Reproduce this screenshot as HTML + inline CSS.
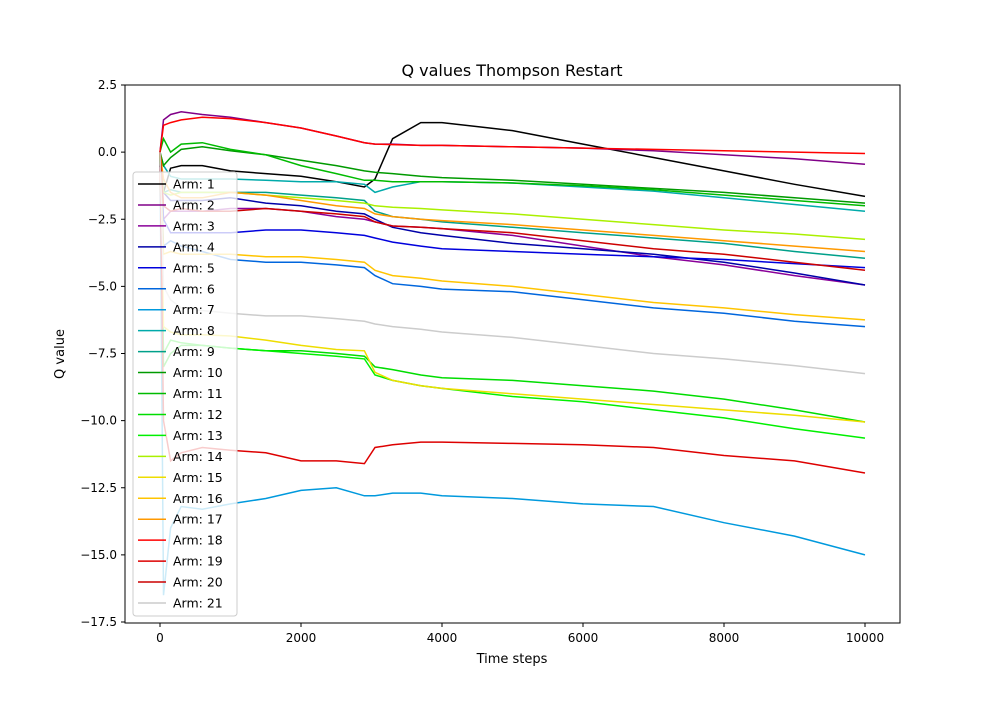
<!DOCTYPE html>
<html><head><meta charset="utf-8"><style>
body{margin:0;background:#fff;font-family:"Liberation Sans","DejaVu Sans",sans-serif}
svg text{font-family:"DejaVu Sans","Liberation Sans",sans-serif}
</style></head><body>
<svg id="chart" width="1000" height="700" viewBox="0 0 1000 700" xmlns="http://www.w3.org/2000/svg">
<rect width="1000" height="700" fill="#fff"/>
<text x="512" y="76" font-size="16" text-anchor="middle">Q values Thompson Restart</text>
<g id="series"></g>
<rect x="125" y="85" width="775" height="538" fill="none" stroke="#000" stroke-width="1"/>
<g id="xticks"></g>
<g id="yticks"></g>
<text x="512" y="663" font-size="13" text-anchor="middle">Time steps</text>
<text x="64" y="354" font-size="13" text-anchor="middle" transform="rotate(-90 64 354)">Q value</text>
<g id="legend"></g>
</svg>
<script>
const steps=[0,50,150,300,600,1000,1500,2000,2500,2900,3050,3300,3700,4000,5000,6000,7000,8000,9000,10000];
const arm1=[-0.5,-1.5,-0.6,-0.5,-0.5,-0.7,-0.8,-0.9,-1.1,-1.3,-1.0,0.5,1.1,1.1,0.8,0.3,-0.2,-0.7,-1.2,-1.65];
const arm2=[0,1.2,1.4,1.5,1.4,1.3,1.1,0.9,0.6,0.35,0.3,0.3,0.25,0.25,0.2,0.15,0.05,-0.1,-0.25,-0.45];
const arm3=[0,-2.5,-2.2,-2.2,-2.2,-2.1,-2.1,-2.2,-2.4,-2.5,-2.6,-2.75,-2.8,-2.85,-3.1,-3.5,-3.9,-4.2,-4.6,-4.95];
const arm4=[0,-1.5,-1.8,-1.8,-1.8,-1.7,-1.9,-2.0,-2.2,-2.3,-2.5,-2.8,-3.0,-3.1,-3.4,-3.6,-3.8,-4.1,-4.5,-4.95];
const arm5=[0,-2.5,-3.0,-3.0,-3.0,-3.0,-2.9,-2.9,-3.0,-3.1,-3.2,-3.35,-3.5,-3.6,-3.7,-3.8,-3.9,-4.0,-4.15,-4.3];
const arm6=[0,-3.5,-3.3,-3.5,-3.7,-4.0,-4.1,-4.1,-4.2,-4.3,-4.6,-4.9,-5.0,-5.1,-5.2,-5.5,-5.8,-6.0,-6.3,-6.5];
const arm7=[0,-16.5,-14,-13.2,-13.3,-13.1,-12.9,-12.6,-12.5,-12.8,-12.8,-12.7,-12.7,-12.8,-12.9,-13.1,-13.2,-13.8,-14.3,-15];
const arm8=[0,-0.5,-0.9,-1.0,-1.0,-1.0,-1.05,-1.1,-1.1,-1.2,-1.5,-1.3,-1.1,-1.1,-1.15,-1.3,-1.45,-1.7,-1.95,-2.2];
const arm9=[0,-1.5,-1.4,-1.5,-1.5,-1.5,-1.5,-1.6,-1.7,-1.8,-2.2,-2.4,-2.5,-2.6,-2.8,-3.0,-3.2,-3.4,-3.7,-3.95];
const arm10=[0,-0.5,-0.2,0.1,0.2,0.05,-0.1,-0.3,-0.5,-0.7,-0.75,-0.8,-0.9,-0.95,-1.05,-1.2,-1.35,-1.5,-1.7,-1.9];
const arm11=[0,0.5,0.0,0.3,0.35,0.1,-0.1,-0.5,-0.8,-1.05,-1.05,-1.1,-1.1,-1.1,-1.15,-1.25,-1.4,-1.6,-1.8,-2.0];
const arm12=[0,-8,-7.5,-7.2,-7.2,-7.3,-7.4,-7.4,-7.5,-7.6,-8.0,-8.1,-8.3,-8.4,-8.5,-8.7,-8.9,-9.2,-9.6,-10.05];
const arm13=[0,-7.5,-7.0,-7.1,-7.2,-7.3,-7.4,-7.5,-7.6,-7.7,-8.3,-8.5,-8.7,-8.8,-9.1,-9.3,-9.6,-9.9,-10.3,-10.65];
const arm14=[0,-1.5,-1.6,-1.5,-1.5,-1.5,-1.6,-1.7,-1.8,-1.9,-2.0,-2.05,-2.1,-2.15,-2.3,-2.5,-2.7,-2.9,-3.05,-3.25];
const arm15=[0,-6.5,-6.7,-6.8,-6.8,-6.85,-7.0,-7.2,-7.35,-7.4,-8.2,-8.5,-8.7,-8.8,-9.0,-9.2,-9.4,-9.6,-9.8,-10.05];
const arm16=[0,-3.8,-3.7,-3.8,-3.8,-3.8,-3.9,-3.9,-4.0,-4.1,-4.4,-4.6,-4.7,-4.8,-5.0,-5.3,-5.6,-5.8,-6.05,-6.25];
const arm17=[0,-1.0,-1.5,-1.7,-1.7,-1.5,-1.6,-1.8,-2.0,-2.1,-2.3,-2.4,-2.5,-2.55,-2.7,-2.9,-3.1,-3.3,-3.5,-3.7];
const arm18=[0,1.0,1.1,1.2,1.3,1.25,1.1,0.9,0.6,0.35,0.3,0.28,0.25,0.25,0.2,0.15,0.1,0.05,0.0,-0.05];
const arm19=[0,-10,-11.5,-11.2,-11.0,-11.1,-11.2,-11.5,-11.5,-11.6,-11.0,-10.9,-10.8,-10.8,-10.85,-10.9,-11.0,-11.3,-11.5,-11.95];
const arm20=[0,-2.0,-2.2,-2.1,-2.2,-2.2,-2.1,-2.2,-2.3,-2.4,-2.6,-2.75,-2.8,-2.85,-3.0,-3.3,-3.6,-3.8,-4.1,-4.4];
const arm21=[0,-5.0,-5.5,-5.8,-5.9,-6.0,-6.1,-6.1,-6.2,-6.3,-6.4,-6.5,-6.6,-6.7,-6.9,-7.2,-7.5,-7.7,-7.95,-8.25];
const xTicks=[0,2000,4000,6000,8000,10000];
const xTickLabels=["0","2000","4000","6000","8000","10000"];
const yTicks=[2.5,0,-2.5,-5,-7.5,-10,-12.5,-15,-17.5];
const yTickLabels=["2.5","0.0","\u22122.5","\u22125.0","\u22127.5","\u221210.0","\u221212.5","\u221215.0","\u221217.5"];
const armLabels=["Arm: 1","Arm: 2","Arm: 3","Arm: 4","Arm: 5","Arm: 6","Arm: 7","Arm: 8","Arm: 9","Arm: 10","Arm: 11","Arm: 12","Arm: 13","Arm: 14","Arm: 15","Arm: 16","Arm: 17","Arm: 18","Arm: 19","Arm: 20","Arm: 21"];

const allArms=[arm1,arm2,arm3,arm4,arm5,arm6,arm7,arm8,arm9,arm10,arm11,arm12,arm13,arm14,arm15,arm16,arm17,arm18,arm19,arm20,arm21];
const colors=["#000000","#800088","#8a0099","#0000a8","#0000dd","#0066dd","#0099dd","#00aaaa","#00a08a","#009a00","#00bb00","#00dd00","#00f000","#aaf000","#eedd00","#ffc400","#ff9900","#ff0000","#dd0000","#cc0000","#cccccc"];
const NS="http://www.w3.org/2000/svg";
function xs(v){return 160+v*0.0705;}
function ys(v){return 85+(2.5-v)*26.85;}
const sg=document.getElementById('series');
allArms.forEach((arr,i)=>{
  const p=document.createElementNS(NS,'polyline');
  p.setAttribute('points',arr.map((v,j)=>xs(steps[j]).toFixed(1)+','+ys(v).toFixed(1)).join(' '));
  p.setAttribute('fill','none');p.setAttribute('stroke',colors[i]);p.setAttribute('stroke-width','1.5');
  
  
  sg.appendChild(p);
});
const xg=document.getElementById('xticks');
xTicks.forEach((t,i)=>{
  const x=xs(t);
  const l=document.createElementNS(NS,'line');
  l.setAttribute('x1',x);l.setAttribute('x2',x);l.setAttribute('y1',623);l.setAttribute('y2',627);l.setAttribute('stroke','#000');
  
  
  xg.appendChild(l);
  const tx=document.createElementNS(NS,'text');
  tx.setAttribute('x',x);tx.setAttribute('y',642);tx.setAttribute('font-size','12');tx.setAttribute('text-anchor','middle');
  tx.textContent=xTickLabels[i];
  
  
  xg.appendChild(tx);
});
const yg=document.getElementById('yticks');
yTicks.forEach((t,i)=>{
  const y=ys(t);
  const l=document.createElementNS(NS,'line');
  l.setAttribute('x1',121);l.setAttribute('x2',125);l.setAttribute('y1',y);l.setAttribute('y2',y);l.setAttribute('stroke','#000');
  
  
  yg.appendChild(l);
  const tx=document.createElementNS(NS,'text');
  tx.setAttribute('x',117);tx.setAttribute('y',y+4);tx.setAttribute('font-size','12');tx.setAttribute('text-anchor','end');
  tx.textContent=yTickLabels[i];
  
  
  yg.appendChild(tx);
});
const lg=document.getElementById('legend');
const box=document.createElementNS(NS,'rect');
box.setAttribute('x',133);box.setAttribute('y',172);box.setAttribute('width',104);box.setAttribute('height',444);box.setAttribute('rx',3);
box.setAttribute('fill','#fff');box.setAttribute('fill-opacity','0.8');box.setAttribute('stroke','#ccc');


lg.appendChild(box);
armLabels.forEach((lab,i)=>{
  const y=184+i*20.95;
  const g=document.createElementNS(NS,'g');
  
  
  const l=document.createElementNS(NS,'line');
  l.setAttribute('x1',138);l.setAttribute('x2',166);l.setAttribute('y1',y);l.setAttribute('y2',y);
  l.setAttribute('stroke',colors[i]);l.setAttribute('stroke-width','1.5');
  g.appendChild(l);
  const tx=document.createElementNS(NS,'text');
  tx.setAttribute('x',173);tx.setAttribute('y',y+4.5);tx.setAttribute('font-size','12.5');
  tx.textContent=lab;
  g.appendChild(tx);
  lg.appendChild(g);
});
</script>
</body></html>
